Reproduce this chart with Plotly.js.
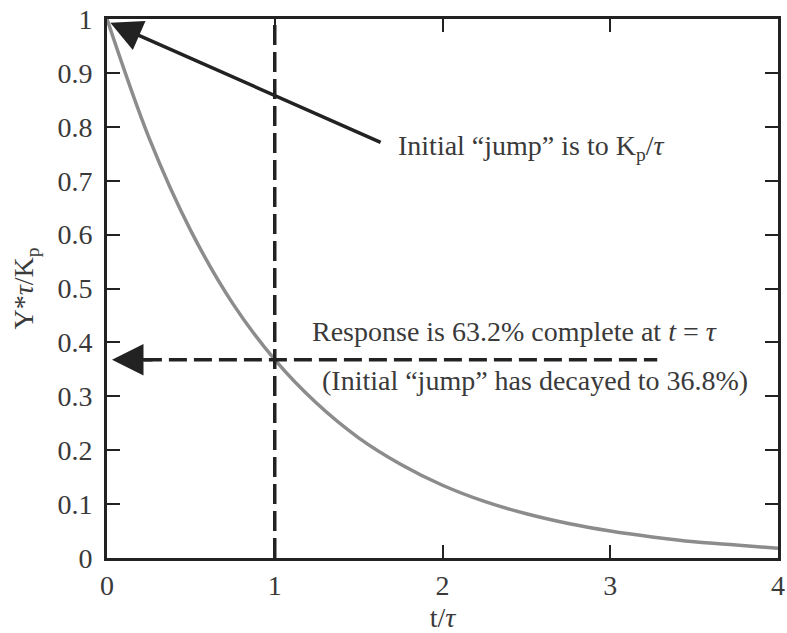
<!DOCTYPE html>
<html>
<head>
<meta charset="utf-8">
<script src="https://cdn.plot.ly/plotly-3.0.1.min.js"></script>
<style>html,body{margin:0;padding:0;background:#fff}#chart{width:787px;height:633px}</style>
</head>
<body>
<div id="chart"></div>
<script>
// Normalized first-order impulse response, Y*tau/Kp versus t/tau
const tOverTau = [0, 0.25, 0.5, 0.75, 1, 1.25, 1.5, 1.75, 2, 2.25, 2.5, 2.75, 3, 3.25, 3.5, 3.75, 4];
const response = [1, 0.78, 0.607, 0.472, 0.368, 0.287, 0.223, 0.174, 0.135, 0.105, 0.082, 0.064, 0.05, 0.039, 0.03, 0.024, 0.018];

// Reference markers
const tauMark = 1;          // t = tau
const decayLevel = 0.368;   // 36.8 % of the initial jump
const jumpLevel = 1;        // initial jump Kp/tau

const xTicks = [0, 1, 2, 3, 4];
const yTicks = [0, 0.1, 0.2, 0.3, 0.4, 0.5, 0.6, 0.7, 0.8, 0.9, 1];

const serif = 'Liberation Serif, Times New Roman, serif';
const ink = '#222';
const textInk = '#3a3a3a';

const traces = [{
  x: tOverTau, y: response, type: 'scatter', mode: 'lines',
  line: {color: '#8c8c8c', width: 3.5, shape: 'spline'},
  hoverinfo: 'skip'
}];

const axisCommon = {
  showgrid: false, zeroline: false, showline: true, mirror: 'ticks',
  linecolor: ink, linewidth: 3, ticks: 'inside', ticklen: 13,
  tickwidth: 2, tickcolor: ink,
  tickfont: {family: serif, size: 28, color: textInk}
};

const layout = {
  width: 787, height: 633,
  margin: {l: 107, r: 9, t: 19, b: 75},
  paper_bgcolor: '#fff', plot_bgcolor: '#fff',
  showlegend: false,
  xaxis: Object.assign({}, axisCommon, {
    range: [0, 4], tickvals: xTicks, ticktext: xTicks.map(String),
    title: {text: 't/<i>τ</i>', font: {family: serif, size: 28, color: textInk}, standoff: 8}
  }),
  yaxis: Object.assign({}, axisCommon, {
    range: [0, 1], tickvals: yTicks, ticktext: yTicks.map(String),
    ticklabelstandoff: 6,
    title: {text: 'Y*<i>τ</i>/K<sub>p</sub>', font: {family: serif, size: 28, color: textInk}, standoff: 16}
  }),
  shapes: [
    {type: 'line', xref: 'x', yref: 'y', x0: tauMark, x1: tauMark, y0: 0, y1: jumpLevel,
     line: {color: ink, width: 3.5, dash: '20px,7px'}},
    {type: 'line', xref: 'x', yref: 'y', x0: 0.22, x1: 3.28, y0: decayLevel, y1: decayLevel,
     line: {color: ink, width: 3.5, dash: '18px,7px'}}
  ],
  annotations: [
    {x: 0.02, y: 0.993, xref: 'x', yref: 'y', ax: 1.64, ay: 0.77, axref: 'x', ayref: 'y',
     showarrow: true, arrowhead: 2, arrowsize: 1.8, arrowwidth: 3.5, arrowcolor: ink, text: ''},
    {x: 0.03, y: decayLevel, xref: 'x', yref: 'y', ax: 0.28, ay: decayLevel, axref: 'x', ayref: 'y',
     showarrow: true, arrowhead: 2, arrowsize: 1.8, arrowwidth: 3.5, arrowcolor: ink, text: ''},
    {x: 1.72, y: 0.762, xref: 'x', yref: 'y', xanchor: 'left', yanchor: 'middle', showarrow: false,
     text: 'Initial “jump” is to K<sub>p</sub>/<i>τ</i>', font: {family: serif, size: 28, color: textInk}},
    {x: 1.21, y: 0.42, xref: 'x', yref: 'y', xanchor: 'left', yanchor: 'middle', showarrow: false,
     text: 'Response is 63.2% complete at <i>t</i> = <i>τ</i>', font: {family: serif, size: 28, color: textInk}},
    {x: 1.27, y: 0.33, xref: 'x', yref: 'y', xanchor: 'left', yanchor: 'middle', showarrow: false,
     text: '(Initial “jump” has decayed to 36.8%)', font: {family: serif, size: 28, color: textInk}}
  ]
};

Plotly.newPlot('chart', traces, layout, {staticPlot: true, displayModeBar: false});
</script>
</body>
</html>
